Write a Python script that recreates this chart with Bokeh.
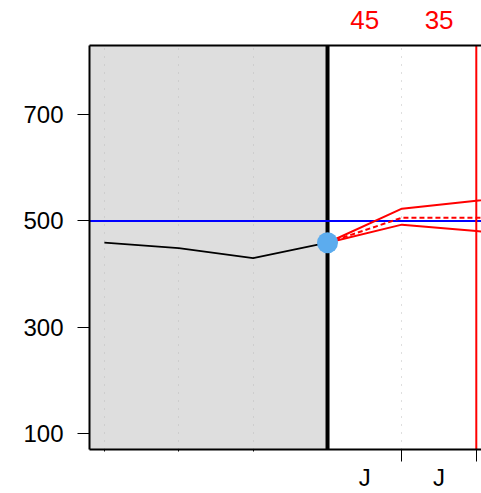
from bokeh.plotting import figure
from bokeh.models import (Range1d, FixedTicker, LinearAxis, Span, BoxAnnotation)
from bokeh.embed import file_html
from bokeh.resources import INLINE

# ---- data ----
hist_x = [1, 2, 3, 4]
hist_y = [459, 449, 430, 459]
fc_x = [4, 5, 6, 7]
fc_upper = [459, 523, 538, 553]
fc_mid = [459, 506, 506, 506]
fc_lower = [459, 493, 481, 469]
target_y = 500
now_x = 4
horizon_x = 6
y_ticks = [100, 300, 500, 700]
x_small_ticks = [1, 2, 3]
x_tick_marks = [5, 6]
grid_x = [1, 2, 3, 4, 5, 6]
label_x = [4.5, 5.5]
top_labels = ["45", "35"]
bottom_labels = ["J", "J"]

FONT = "Liberation Sans"

p = figure(width=481, height=493, output_backend="svg", toolbar_location=None,
           x_range=Range1d(0.8, 6.07), y_range=Range1d(70, 830),
           x_axis_location=None,
           min_border_left=89, min_border_right=0, min_border_top=45,
           min_border_bottom=44, background_fill_color="white",
           border_fill_color="white", outline_line_color=None)

# shaded history region
p.add_layout(BoxAnnotation(right=now_x, fill_color="#DEDEDE", fill_alpha=1.0,
                           line_color=None, level="image"))

# grid
p.ygrid.visible = False
p.xgrid.ticker = FixedTicker(ticks=grid_x)
p.xgrid.grid_line_color = "#BEBEBE"
p.xgrid.grid_line_dash = "1 7"
p.xgrid.grid_line_width = 1

# bottom axis 1: line, small ticks at 1-3, long tick marks at 5 and 6
xa = LinearAxis(ticker=FixedTicker(ticks=x_small_ticks, minor_ticks=x_tick_marks),
                major_label_overrides={x: "" for x in x_small_ticks},
                major_tick_out=0, major_tick_in=-2, major_tick_line_color="black",
                minor_tick_out=0, minor_tick_in=-12, minor_tick_line_color="black",
                axis_line_color="black", axis_line_width=2,
                major_label_standoff=0, major_label_text_font_size="1px")
p.add_layout(xa, "below")

# bottom axis 2: "J" labels
ba = LinearAxis(ticker=FixedTicker(ticks=label_x),
                major_label_overrides={x: t for x, t in zip(label_x, bottom_labels)},
                axis_line_color=None, major_tick_line_color=None,
                minor_tick_line_color=None, major_tick_out=0, major_tick_in=0,
                major_label_standoff=14, major_label_text_font=FONT,
                major_label_text_font_size="24px", major_label_text_color="black")
p.add_layout(ba, "below")

# left axis
ya = p.yaxis[0]
ya.ticker = FixedTicker(ticks=y_ticks)
ya.major_tick_out = 12
ya.major_tick_in = 0
ya.minor_tick_line_color = None
ya.major_tick_line_color = "black"
ya.axis_line_color = "black"
ya.axis_line_width = 2
ya.major_label_text_font = FONT
ya.major_label_text_font_size = "24px"
ya.major_label_text_color = "black"
ya.major_label_standoff = 14

# top border + red labels
ta = LinearAxis(ticker=FixedTicker(ticks=label_x),
                major_label_overrides={x: t for x, t in zip(label_x, top_labels)},
                axis_line_color="black", axis_line_width=2,
                major_tick_line_color=None, minor_tick_line_color=None,
                major_label_standoff=11, major_label_text_font=FONT,
                major_label_text_font_size="26px",
                major_label_text_color="#FF0000")
p.add_layout(ta, "above")

# vertical / horizontal reference lines
p.add_layout(Span(location=now_x, dimension="height", line_color="black",
                  line_width=4, level="underlay"))
p.add_layout(Span(location=target_y, dimension="width", line_color="#0000FF",
                  line_width=2, level="underlay"))
p.add_layout(Span(location=horizon_x, dimension="height", line_color="#FF0000",
                  line_width=2, level="underlay"))

# history line
p.line(hist_x, hist_y, line_color="black", line_width=1.8)

# forecast lines
p.line(fc_x, fc_upper, line_color="#FF0000", line_width=2)
p.line(fc_x, fc_lower, line_color="#FF0000", line_width=2)
p.line(fc_x, fc_mid, line_color="#FF0000", line_width=2, line_dash="5 3")

# current point
p.scatter([hist_x[-1]], [hist_y[-1]], size=21, fill_color="#5CACEE",
          line_color=None)

open("out.html", "w").write(file_html(p, INLINE))
